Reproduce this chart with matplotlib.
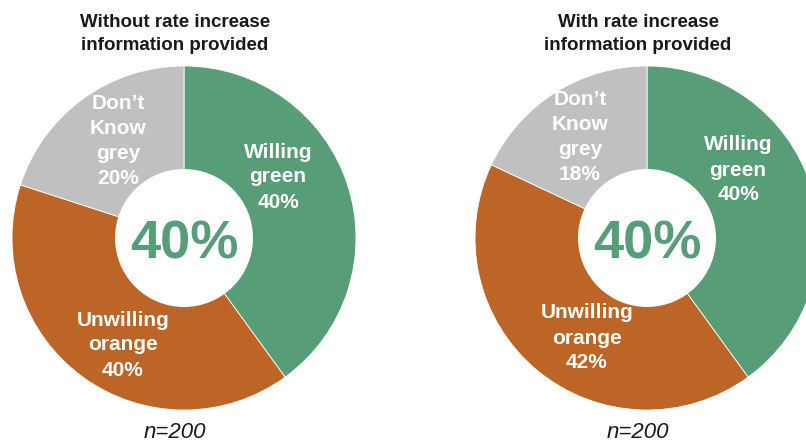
import matplotlib
matplotlib.use("Agg")
import matplotlib.pyplot as plt
from matplotlib.patches import Circle

plt.rcParams['font.family'] = ['Liberation Sans', 'DejaVu Sans']

# Survey results
categories = ["Willing\ngreen", "Unwilling\norange", "Don\u2019t\nKnow\ngrey"]
without_info = [40, 40, 20]
with_info = [40, 42, 18]
titles = ["Without rate increase\ninformation provided",
          "With rate increase\ninformation provided"]
center_value = [40, 40]
sample_sizes = [200, 200]

colors = ["#579D77", "#BD6526", "#C0C0C0"]

W, H = 806, 445
fig = plt.figure(figsize=(W / 100, H / 100), dpi=100)
ax = fig.add_axes([0, 0, 1, 1])

# layout (pixel units, y grows downward)
centers = [(184, 238), (647, 238)]
radius = 172
hole = 69
title_x = [175, 638]
label_offsets = [
    [(94, -61), (-61, 107), (-66, -97)],
    [(91, -68), (-60, 100), (-67, -101)],
]

for i, vals in enumerate([without_info, with_info]):
    cx, cy = centers[i]
    # y axis is inverted: start at -90 (top on screen), counterclock in data = clockwise on screen
    ax.pie(vals, colors=colors, startangle=-90, counterclock=True,
           center=(cx, cy), radius=radius,
           wedgeprops=dict(edgecolor='white', linewidth=0.6))
    ax.add_patch(Circle((cx, cy), hole, facecolor='white', edgecolor='none', zorder=3))
    for cat, v, (dx, dy) in zip(categories, vals, label_offsets[i]):
        ax.text(cx + dx, cy + dy, f"{cat}\n{v}%", ha='center', va='center',
                color='white', fontsize=15, fontweight='bold',
                linespacing=1.4, zorder=4)
    ax.text(cx, cy + 1, f"{center_value[i]}%", ha='center', va='center_baseline',
            color=colors[0], fontsize=39, fontweight='bold', zorder=5)
    ax.text(title_x[i], 34, titles[i], ha='center', va='center',
            color='#1A1A1A', fontsize=13.5, fontweight='bold', linespacing=1.5)
    ax.text(title_x[i], 432, f"n={sample_sizes[i]}", ha='center', va='center',
            color='#1A1A1A', fontsize=16, fontstyle='italic')

ax.set_xlim(0, W)
ax.set_ylim(H, 0)
ax.set_aspect('equal')
ax.set_position([0, 0, 1, 1])
ax.axis('off')

fig.savefig("out.png", dpi=100)
